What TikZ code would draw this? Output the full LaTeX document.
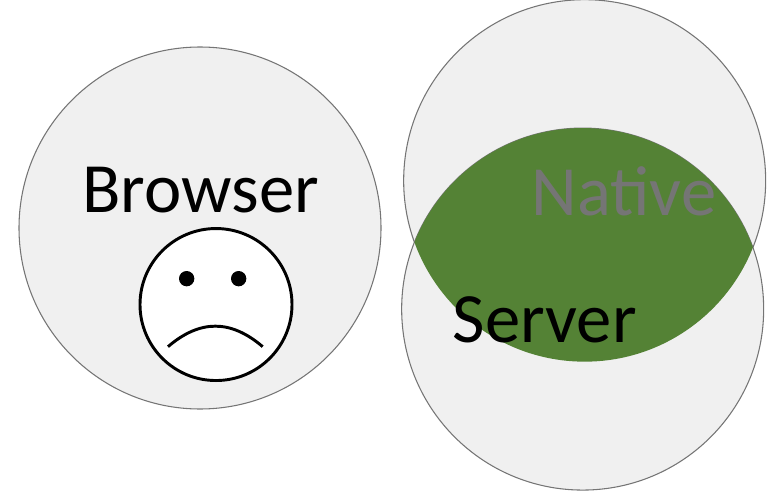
\documentclass[tikz,border=0pt]{standalone}
\usepackage{fontspec}
\setmainfont{Carlito}
\usepackage{tikz}
\usetikzlibrary{positioning}
\definecolor{bubble}{HTML}{F0F0F0}
\definecolor{rim}{HTML}{757575}
\definecolor{overlap}{HTML}{548235}
\tikzset{x=1pt,y=-1pt}
\tikzstyle{venn} = [draw=rim, fill=bubble, circle, inner sep=0, minimum size=271.5pt, line width=0.8pt]
\tikzstyle{word} = [draw=none, inner sep=0, font=\fontsize{53}{53}\selectfont]
\tikzstyle{face} = [draw=black, line width=2.2pt]
\begin{document}
\begin{tikzpicture}
\useasboundingbox (0,0) rectangle (576,369);
\node [venn] (browser) at (150,171) {};
\node [venn] (native) at (438.5,135.5) {};
\node [venn] (server) at (437,231.8) {};
% overlap of native and server
\begin{scope}
\clip (438.5,135.5) circle (135.75pt);
\fill [overlap] (437,231.8) circle (135.75pt);
\end{scope}
\node [word] (browserlabel) at (150.5,142.5) {Browser};
\node [word, text=rim] (nativelabel) at (468,143.5) {Native};
\node [word] (serverlabel) at (408.5,240) {Server};
\node [face, circle, inner sep=0, minimum size=114pt, fill=white] (smiley) at (162,228.4) {};
\node [circle, fill=black, inner sep=0, minimum size=11.5pt] (lefteye) at (140,209) {};
\node [circle, fill=black, inner sep=0, minimum size=11.5pt] (righteye) at (179,209) {};
\coordinate (mouthl) at (126,260);
\coordinate (mouthr) at (197,260);
\draw [face] (mouthl) .. controls (150,239.5) and (173,239.5) .. (mouthr);
\end{tikzpicture}
\end{document}
